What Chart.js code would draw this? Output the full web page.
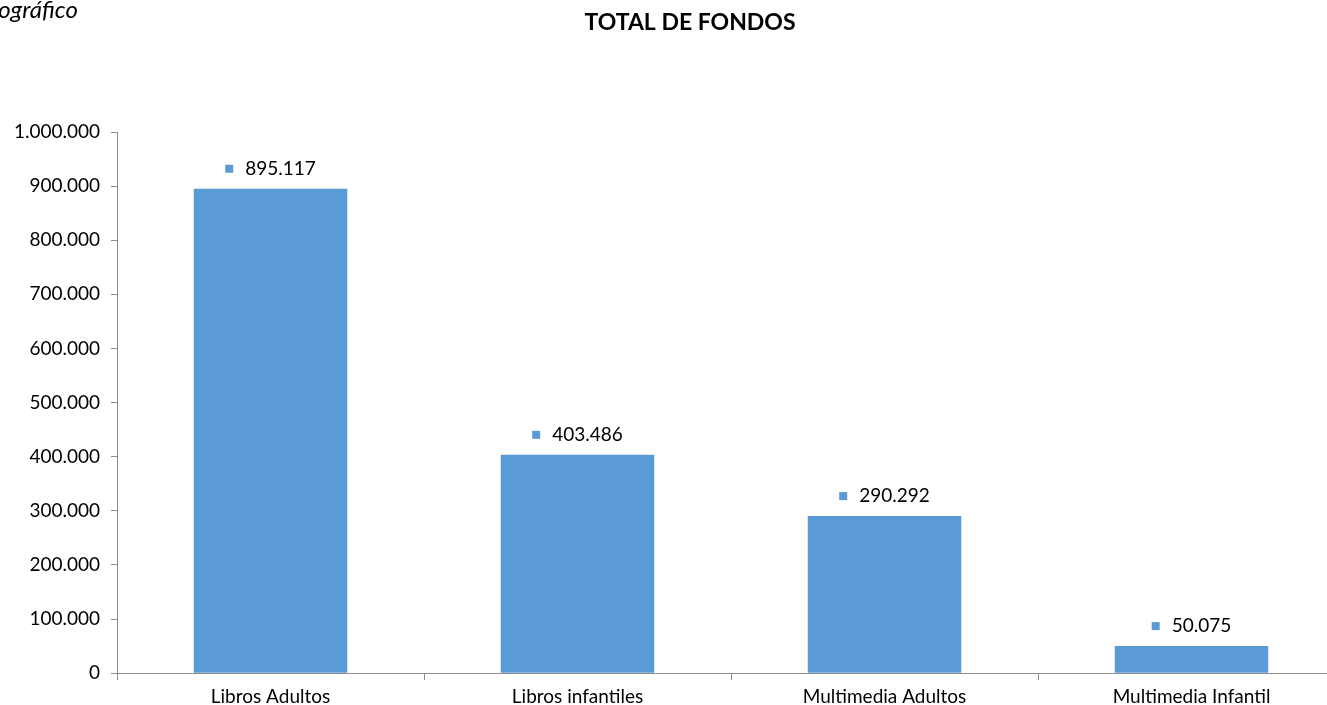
<!DOCTYPE html>
<html>
<head>
<meta charset="utf-8">
<script src="https://cdn.jsdelivr.net/npm/chart.js@4.4.0/dist/chart.umd.min.js"></script>
<style>
  body { margin: 0; overflow: hidden; background: #fff; }
  #wrap { position: relative; width: 1380px; height: 713px; }
  #note { position: absolute; right: 1302px; top: -6px; line-height: 24px; white-space: nowrap; font: italic 24px Lato, sans-serif; color: #000; }
</style>
</head>
<body>
<div id="wrap">
  <canvas id="fondos"></canvas>
  <div id="note">Fondo bibliográfico</div>
</div>
<script>
const categories = ["Libros Adultos", "Libros infantiles", "Multimedia Adultos", "Multimedia Infantil"];
const totals = [895117, 403486, 290292, 50075];
const yTicks = [0, 100000, 200000, 300000, 400000, 500000, 600000, 700000, 800000, 900000, 1000000];

const barColor = "#5B9BD5";
const axisColor = "#8c8c8c";

function miles(v) {
  return String(v).replace(/\B(?=(\d{3})+(?!\d))/g, ".");
}

// little square + value above each bar
const labelPlugin = {
  id: "valueLabels",
  afterDatasetsDraw(chart) {
    const c = chart.ctx;
    const meta = chart.getDatasetMeta(0);
    c.save();
    c.font = "19px Lato";
    c.textBaseline = "middle";
    meta.data.forEach((bar, i) => {
      const txt = miles(totals[i]);
      const w = c.measureText(txt).width;
      const total = 8 + 12 + w;
      const x0 = bar.x - total / 2;
      const y = bar.y - 20;
      c.fillStyle = barColor;
      c.fillRect(x0, y - 4, 8, 8);
      c.fillStyle = "#000";
      c.textAlign = "left";
      c.fillText(txt, x0 + 20, y);
    });
    c.restore();
  }
};

const canvas = document.getElementById("fondos");
canvas.width = 1380;
canvas.height = 713;

var chart = new Chart(canvas, {
  type: "bar",
  data: {
    labels: categories,
    datasets: [
      {
        label: "Total de fondos",
        data: totals,
        backgroundColor: barColor,
        borderWidth: 0,
        barPercentage: 0.5,
        categoryPercentage: 1,
      },
    ],
  },
  options: {
    responsive: false,
    animation: false,
    plugins: {
      legend: { display: false },
      tooltip: { enabled: false },
      title: {
        display: true,
        text: "TOTAL DE FONDOS",
        color: "#000",
        font: { family: "Lato", size: 23, weight: "bold" },
        padding: { top: 9, bottom: 95.4 },
      },
    },
    scales: {
      x: {
        grid: { display: true, offset: true, drawOnChartArea: false, drawTicks: true, tickLength: 7, color: axisColor },
        border: { color: axisColor },
        ticks: { color: "#000", font: { family: "Lato", size: 19 }, padding: 5 },
      },
      y: {
        min: 0,
        max: 1000000,
        afterFit(scale) { scale.width = 117; },
        afterBuildTicks(scale) { scale.ticks = yTicks.map(v => ({ value: v })); },
        grid: { display: true, drawOnChartArea: false, drawTicks: true, tickLength: 6, color: axisColor },
        border: { color: axisColor },
        ticks: {
          color: "#000",
          font: { family: "Lato", size: 19 },
          padding: 11,
          callback: v => miles(v),
        },
      },
      // empty right margin so the plot stops at 1345 while the title stays centred on the page
      spacer: {
        type: "linear",
        position: "right",
        afterFit(scale) { scale.width = 35; },
        grid: { display: false },
        border: { display: false },
        ticks: { display: false },
      },
    },
  },
  plugins: [labelPlugin],
});
</script>
</body>
</html>
